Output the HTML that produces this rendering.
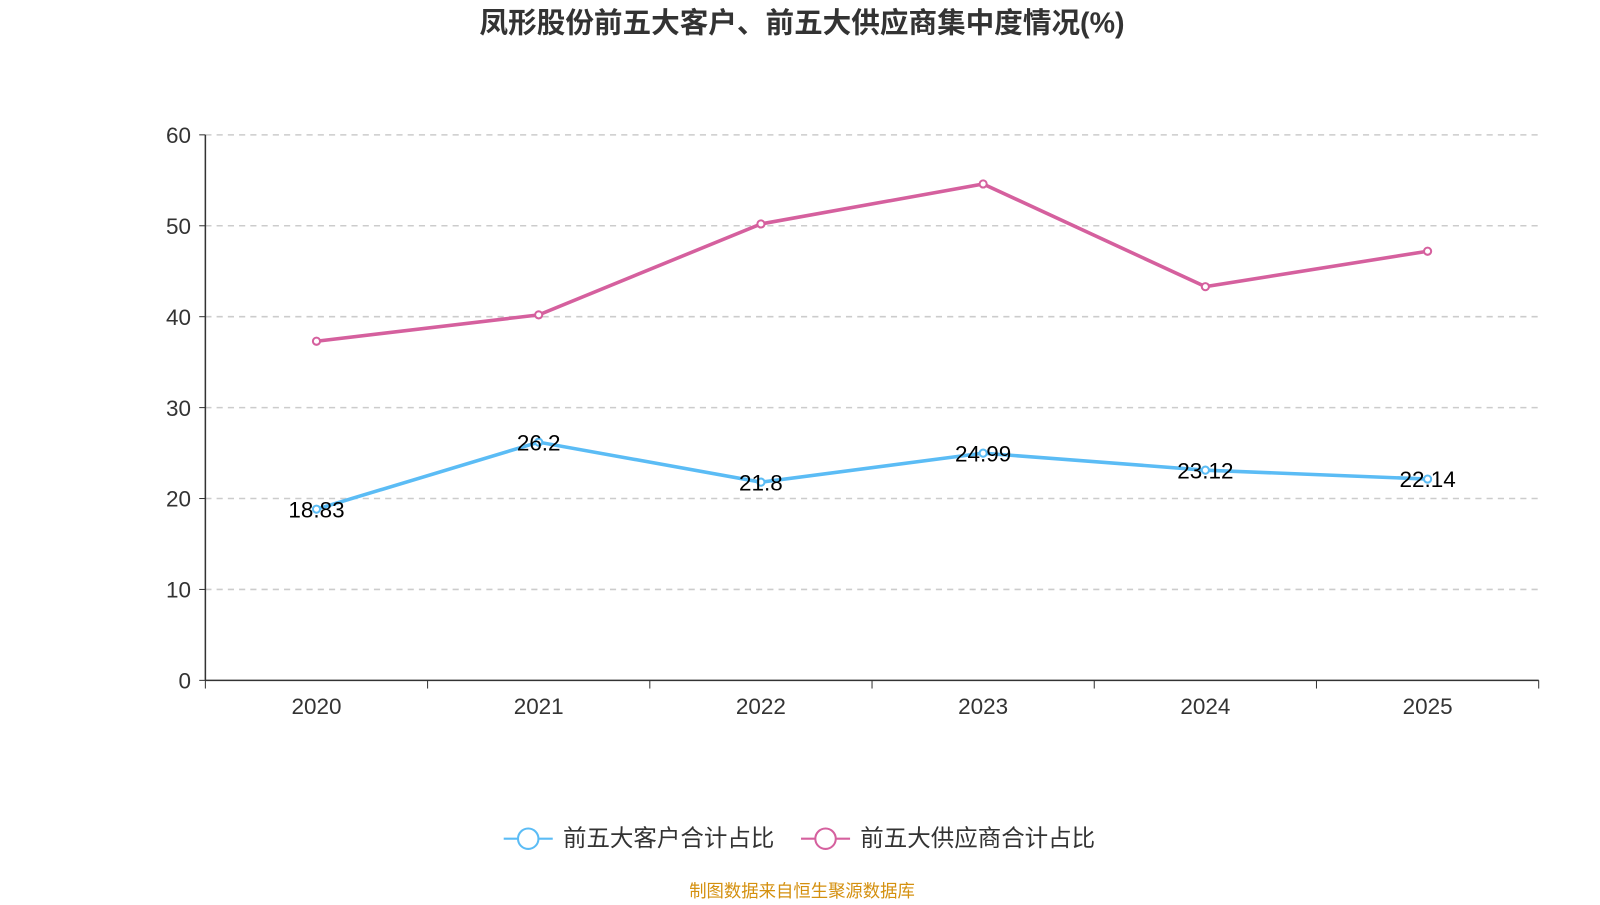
<!DOCTYPE html>
<html><head><meta charset="utf-8"><style>
body{margin:0;background:#fff;width:1600px;height:900px;overflow:hidden;font-family:"Liberation Sans","Noto Sans CJK SC",sans-serif}
</style></head><body>
<svg id="c" width="1600" height="900" viewBox="0 0 1566 881" preserveAspectRatio="none" xmlns="http://www.w3.org/2000/svg">
<text x="785" y="32" text-anchor="middle" font-size="28" font-weight="bold" fill="#333" font-family="Liberation Sans, Noto Sans CJK SC, sans-serif">凤形股份前五大客户、前五大供应商集中度情况(%)</text>
<g id="grid"></g><g id="axes"></g><g id="series"></g>
<g>
<line x1="493" y1="821" x2="541" y2="821" stroke="#5bbcf5" stroke-width="2"/>
<circle cx="517" cy="821" r="10" fill="#fff" stroke="#5bbcf5" stroke-width="2"/>
<text x="551" y="828" font-size="23" fill="#333" font-family="Liberation Sans, Noto Sans CJK SC, sans-serif">前五大客户合计占比</text>
<line x1="784" y1="821" x2="832" y2="821" stroke="#d5609e" stroke-width="2"/>
<circle cx="808" cy="821" r="10" fill="#fff" stroke="#d5609e" stroke-width="2"/>
<text x="842" y="828" font-size="23" fill="#333" font-family="Liberation Sans, Noto Sans CJK SC, sans-serif">前五大供应商合计占比</text>
</g>
<text x="785" y="878" text-anchor="middle" font-size="17" fill="#d4900f" font-family="Liberation Sans, Noto Sans CJK SC, sans-serif">制图数据来自恒生聚源数据库</text>
</svg>
<script>
const categories=["2020","2021","2022","2023","2024","2025"];
const customers=[18.83,26.2,21.8,24.99,23.12,22.14];
const suppliers=[37.3,40.2,50.2,54.6,43.3,47.2];
const yTicks=[0,10,20,30,40,50,60];
const NS="http://www.w3.org/2000/svg";
const L=201,R=1506,T=132,B=666,yMax=60;
const bw=(R-L)/categories.length;
const x=i=>L+bw*(i+0.5);
const y=v=>B-(v/yMax)*(B-T);
function mk(t,a,p){const e=document.createElementNS(NS,t);for(const k in a)e.setAttribute(k,a[k]);p.appendChild(e);return e;}
const grid=document.getElementById('grid'),axes=document.getElementById('axes'),ser=document.getElementById('series');
const ff="Liberation Sans, Noto Sans CJK SC, sans-serif";
yTicks.forEach(v=>{
 if(v>0){const g=mk('line',{x1:L,x2:R,y1:y(v),y2:y(v),stroke:'#ccc','stroke-dasharray':'6,5','stroke-width':1.5},grid);
 
 }
 mk('line',{x1:L-6,x2:L,y1:y(v),y2:y(v),stroke:'#333'},axes);
 const t=mk('text',{x:L-14,y:y(v)+8,'text-anchor':'end','font-size':22,fill:'#333','font-family':ff},axes);t.textContent=v;
 
 
});
mk('line',{x1:L,x2:L,y1:T,y2:B,stroke:'#333','stroke-width':1.5},axes);
mk('line',{x1:L,x2:R,y1:B,y2:B,stroke:'#333','stroke-width':1.5},axes);
for(let i=0;i<=categories.length;i++)mk('line',{x1:L+bw*i,x2:L+bw*i,y1:B,y2:B+8,stroke:'#333'},axes);
categories.forEach((c,i)=>{const t=mk('text',{x:x(i),y:B+33,'text-anchor':'middle','font-size':22,fill:'#333','font-family':ff},axes);t.textContent=c;
 
 });
function line(data,color,name,labels){
 const p=mk('polyline',{points:data.map((v,i)=>x(i)+','+y(v)).join(' '),fill:'none',stroke:color,'stroke-width':3.5},ser);
 
 
 data.forEach((v,i)=>{const c=mk('circle',{cx:x(i),cy:y(v),r:3.5,fill:'#fff',stroke:color,'stroke-width':2},ser);
  
  
  if(labels){const t=mk('text',{x:x(i),y:y(v)+8,'text-anchor':'middle','font-size':22,fill:'#000','font-family':ff},ser);t.textContent=v;
   
   }});
}
line(suppliers,'#d5609e','suppliers',false);
line(customers,'#5bbcf5','customers',true);
</script>
</body></html>
